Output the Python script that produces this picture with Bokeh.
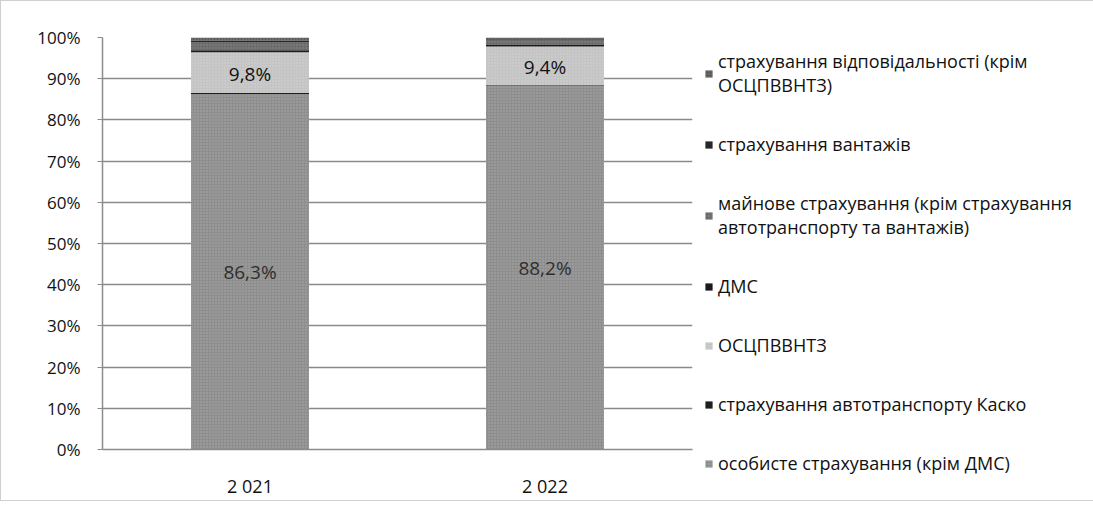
from bokeh.plotting import figure
from bokeh.models import (FactorRange, Range1d, NumeralTickFormatter, Legend, LegendItem,
                          ColumnDataSource, FixedTicker)
from bokeh.core.properties import value
from bokeh.embed import file_html
from bokeh.resources import INLINE

years = ["2 021", "2 022"]
series_names = [
    "особисте страхування (крім ДМС)",
    "страхування автотранспорту Каско",
    "ОСЦПВВНТЗ",
    "ДМС",
    "майнове страхування (крім страхування\nавтотранспорту та вантажів)",
    "страхування вантажів",
    "страхування відповідальності (крім\nОСЦПВВНТЗ)",
]
osobyste = [86.3, 88.2]
kasko = [0.3, 0.2]
osc = [9.8, 9.4]
dms = [0.5, 0.4]
mainove = [2.0, 1.2]
vantazh = [0.3, 0.2]
vidpov = [0.8, 0.4]
y_ticks = [0, 10, 20, 30, 40, 50, 60, 70, 80, 90, 100]

series = [osobyste, kasko, osc, dms, mainove, vantazh, vidpov]
keys = ["s%d" % i for i in range(len(series))]
data = {"year": years}
for k, s in zip(keys, series):
    data[k] = [v / 100 for v in s]
src = ColumnDataSource(data)

colors = ["#8e8e8e", "#1e1e1e", "#c4c4c4", "#1a1a1a", "#6a6a6a", "#262626", "#5a5a5a"]
hatches = [".", " ", ".", " ", ".", " ", "."]

FONT = "Open Sans"

p = figure(x_range=FactorRange(*years, range_padding=0), y_range=Range1d(0, 1),
           frame_width=590, frame_height=412, output_backend="svg", toolbar_location=None,
           min_border_left=101, min_border_top=36, min_border_bottom=44, min_border_right=4)
p.styles = {"border": "1px solid #cfcfcf"}

rs = p.vbar_stack(keys, x="year", width=0.4, source=src, color=colors,
                  hatch_pattern=hatches, hatch_color="#ffffff", hatch_alpha=0.25,
                  hatch_scale=3, line_width=0)

# data labels for the two largest series
lab_y, lab_t, lab_x, lab_c = [], [], [], []
for i, yr in enumerate(years):
    b0 = osobyste[i] / 100
    lab_x += [yr, yr]
    lab_y += [b0 / 2, b0 + osc[i] / 200]
    lab_t += [("%.1f%%" % osobyste[i]).replace(".", ","), ("%.1f%%" % osc[i]).replace(".", ",")]
    lab_c += ["#2e2e2e", "#111111"]
lsrc = ColumnDataSource(dict(x=lab_x, y=lab_y, t=lab_t, c=lab_c))
p.text(x="x", y="y", text="t", source=lsrc, text_align="center", text_baseline="middle",
       text_font=value(FONT), text_font_size="19px", text_color="c")

# axes
p.yaxis.ticker = FixedTicker(ticks=[t / 100 for t in y_ticks])
p.yaxis.formatter = NumeralTickFormatter(format="0%")
for ax in (p.xaxis[0], p.yaxis[0]):
    ax.axis_line_color = "#8c8c8c"
    ax.axis_line_width = 1.5
    ax.major_label_text_font = FONT
    ax.major_label_text_color = "#111111"
    ax.minor_tick_line_color = None
p.yaxis.major_label_text_font_size = "17px"
p.xaxis.major_label_text_font_size = "18px"
p.yaxis.major_tick_in = 0
p.yaxis.major_tick_out = 5
p.yaxis.major_tick_line_color = "#8c8c8c"
p.yaxis.major_label_standoff = 17
p.xaxis.major_tick_line_color = None
p.xaxis.major_label_standoff = 18

p.xgrid.grid_line_color = None
p.ygrid.grid_line_color = "#8a8a8a"
p.ygrid.grid_line_width = 1.5
p.outline_line_color = None

items = [LegendItem(label=n, renderers=[r]) for n, r in zip(series_names, rs)][::-1]
legend = Legend(items=items, location="top_left", label_text_font=FONT,
                label_text_font_size="18px", label_text_color="#111111",
                glyph_width=9, glyph_height=9, label_standoff=5, spacing=35,
                padding=0, margin=12, border_line_color=None, background_fill_alpha=0,
                label_text_line_height=1.3)
p.add_layout(legend, "right")

open("out.html", "w").write(file_html(p, INLINE))
